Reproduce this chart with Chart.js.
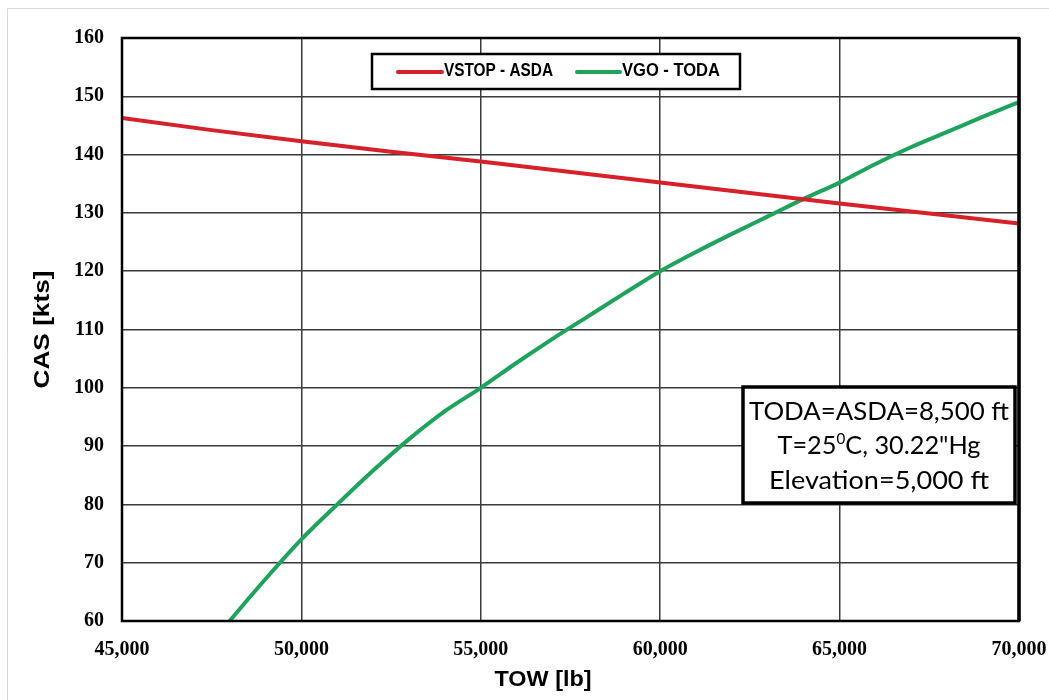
<!DOCTYPE html>
<html>
<head>
<meta charset="utf-8">
<script src="https://cdn.jsdelivr.net/npm/chart.js@4/dist/chart.umd.min.js"></script>
<style>
html,body{margin:0;padding:0;background:#fff;}
#c{display:block;}
</style>
</head>
<body>
<canvas id="c" width="1049" height="700"></canvas>
<script>
// ---- data ----
const xTicks = [45000, 50000, 55000, 60000, 65000, 70000];
const yTicks = [60, 70, 80, 90, 100, 110, 120, 130, 140, 150, 160];

const vstopTOW = [45000, 47500, 50000, 52500, 55000, 57500, 60000, 62500, 65000, 67500, 70000];
const vstopCAS = [146.3, 144.2, 142.3, 140.5, 138.8, 137.0, 135.2, 133.4, 131.6, 129.9, 128.2];

const vgoTOW = [47500, 48000, 49000, 50000, 51000, 52000, 53000, 54000, 55000, 56000, 57000, 58000, 59000,
                60000, 61000, 62000, 63000, 64000, 65000, 66000, 67000, 68000, 69000, 70000];
const vgoCAS = [56.2, 60.0, 67.2, 74.0, 80.0, 85.8, 91.2, 96.0, 100.0, 104.3, 108.4, 112.3, 116.2,
                120.0, 123.3, 126.4, 129.4, 132.4, 135.2, 138.4, 141.3, 143.9, 146.5, 149.0];

const seriesNames = ['VSTOP - ASDA', 'VGO - TODA'];
const xTitle = 'TOW [lb]';
const yTitle = 'CAS [kts]';
const noteLines = ['TODA=ASDA=8,500 ft', 'T=25|0|C, 30.22"Hg', 'Elevation=5,000 ft'];

const RED = '#d6202a';
const GREEN = '#1ea25c';

function pts(xs, ys){ return xs.map((x,i)=>({x:x, y:ys[i]})); }

// draw text fitted to a given width (horizontal scaling)
function fitText(ctx, text, x, y, targetW, align){
  const w = ctx.measureText(text).width;
  const s = targetW / w;
  ctx.save();
  ctx.translate(x, y);
  ctx.scale(s, 1);
  ctx.textAlign = align || 'left';
  ctx.fillText(text, 0, 0);
  ctx.restore();
}

const decor = {
  id: 'decor',
  beforeDraw(chart){
    const ctx = chart.ctx;
    ctx.save();
    ctx.fillStyle = '#fff';
    ctx.fillRect(0,0,chart.width,chart.height);
    ctx.strokeStyle = '#d9d9d9';
    ctx.lineWidth = 1;
    ctx.beginPath();
    ctx.moveTo(7.5, 700); ctx.lineTo(7.5, 8.5); ctx.lineTo(1049, 8.5);
    ctx.stroke();
    ctx.restore();
  },
  afterDraw(chart){
    const ctx = chart.ctx;
    const a = chart.chartArea;
    ctx.save();
    // plot border
    ctx.strokeStyle = '#000';
    ctx.lineWidth = 2.5;
    ctx.strokeRect(a.left, a.top, a.right - a.left, a.bottom - a.top);
    ctx.lineWidth = 3.5;
    ctx.beginPath(); ctx.moveTo(a.right, a.top); ctx.lineTo(a.right, a.bottom); ctx.stroke();

    // axis titles
    ctx.fillStyle = '#000';
    ctx.font = 'bold 22px "Liberation Sans", Arial, sans-serif';
    ctx.textBaseline = 'middle';
    fitText(ctx, xTitle, 543, 680, 97, 'center');
    ctx.save();
    ctx.translate(43, (a.top + a.bottom)/2);
    ctx.rotate(-Math.PI/2);
    fitText(ctx, yTitle, 0, 0, 118, 'center');
    ctx.restore();

    // legend
    const ds = chart.data.datasets;
    ctx.fillStyle = '#fff';
    ctx.fillRect(372, 54, 368, 35);
    ctx.strokeStyle = '#000';
    ctx.lineWidth = 2.5;
    ctx.strokeRect(372, 54, 368, 35);
    const items = [{x0:398, x1:442, tw:109}, {x0:577, x1:620, tw:98}];
    ctx.font = 'bold 18px "Liberation Sans Narrow", "Liberation Sans", Arial, sans-serif';
    ctx.textBaseline = 'middle';
    items.forEach((it, i) => {
      ctx.strokeStyle = ds[i].borderColor;
      ctx.lineWidth = 4;
      ctx.lineCap = 'round';
      ctx.beginPath(); ctx.moveTo(it.x0, 72); ctx.lineTo(it.x1, 72); ctx.stroke();
      ctx.fillStyle = '#000';
      fitText(ctx, ds[i].label, it.x1 + 2, 71.5, it.tw, 'left');
    });

    // note box
    ctx.fillStyle = '#fff';
    ctx.fillRect(743, 387, 272, 116);
    ctx.strokeStyle = '#000';
    ctx.lineWidth = 3.5;
    ctx.lineCap = 'butt';
    ctx.strokeRect(743, 387, 272, 116);
    ctx.fillStyle = '#000';
    ctx.textBaseline = 'alphabetic';
    const big = '25px Lato, "Open Sans", sans-serif';
    const small = '15px Lato, "Open Sans", sans-serif';
    const widths = [260, 203, 220];
    const bases = [420, 454, 489];
    const cx = 879;
    noteLines.forEach((ln, i) => {
      const parts = ln.split('|');
      const fonts = parts.map((p, k) => k % 2 === 1 ? small : big);
      let total = 0;
      const ws = parts.map((p, k) => { ctx.font = fonts[k]; const w = ctx.measureText(p).width; total += w; return w; });
      const s = widths[i] / total;
      ctx.save();
      ctx.translate(cx - widths[i]/2, bases[i]);
      ctx.scale(s, 1);
      let xx = 0;
      parts.forEach((p, k) => {
        ctx.font = fonts[k];
        ctx.fillText(p, xx, k % 2 === 1 ? -10 : 0);
        xx += ws[k];
      });
      ctx.restore();
    });
    ctx.restore();
  }
};

new Chart(document.getElementById('c'), {
  type: 'line',
  data: {
    datasets: [
      { label: seriesNames[0], data: pts(vstopTOW, vstopCAS), borderColor: RED, backgroundColor: RED,
        borderWidth: 4, pointRadius: 0, tension: 0, fill: false },
      { label: seriesNames[1], data: pts(vgoTOW, vgoCAS), borderColor: GREEN, backgroundColor: GREEN,
        borderWidth: 4, pointRadius: 0, tension: 0.3, cubicInterpolationMode: 'monotone', fill: false }
    ]
  },
  options: {
    responsive: false,
    animation: false,
    devicePixelRatio: 1,
    layout: { padding: { top: 38, right: 30, left: 0, bottom: 0 } },
    plugins: { legend: { display: false }, tooltip: { enabled: false } },
    scales: {
      x: {
        type: 'linear', min: xTicks[0], max: xTicks[xTicks.length-1],
        afterBuildTicks(scale){ scale.ticks = xTicks.map(v => ({value: v})); },
        afterFit(scale){ scale.height = 79; scale.paddingLeft = 0; scale.paddingRight = 0; },
        grid: { color: '#3a3a3a', lineWidth: 1.5, drawTicks: false },
        border: { display: false },
        ticks: {
          padding: 17, color: '#000', maxRotation: 0,
          font: { family: '"Liberation Serif", "Times New Roman", serif', size: 20, weight: 'bold' },
          callback: v => v.toLocaleString('en-US')
        }
      },
      y: {
        type: 'linear', min: yTicks[0], max: yTicks[yTicks.length-1],
        afterBuildTicks(scale){ scale.ticks = yTicks.map(v => ({value: v})); },
        afterFit(scale){ scale.width = 122; scale.paddingTop = 0; scale.paddingBottom = 0; },
        grid: { color: '#3a3a3a', lineWidth: 1.5, drawTicks: false },
        border: { display: false },
        ticks: {
          padding: 18, color: '#000',
          font: { family: '"Liberation Serif", "Times New Roman", serif', size: 20, weight: 'bold' },
          callback: v => String(v)
        }
      }
    }
  },
  plugins: [decor]
});
</script>
</body>
</html>
